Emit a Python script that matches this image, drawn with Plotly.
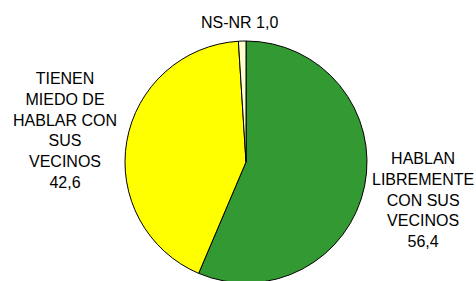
import plotly.graph_objects as go

labels = ["HABLAN LIBREMENTE CON SUS VECINOS", "TIENEN MIEDO DE HABLAR CON SUS VECINOS", "NS-NR"]
values = [56.4, 42.6, 1.0]
label_lines = [
    ["HABLAN", "LIBREMENTE", "CON SUS", "VECINOS"],
    ["TIENEN", "MIEDO DE", "HABLAR CON", "SUS", "VECINOS"],
    ["NS-NR"],
]
colors = ["#339933", "#FFFF00", "#FFFFCC"]

W, H = 476, 285
cx, cy, r = 246, 162, 121

fig = go.Figure(go.Pie(
    labels=labels, values=values, sort=False, direction="clockwise", rotation=0,
    marker=dict(colors=colors, line=dict(color="black", width=1)),
    textinfo="none", hoverinfo="label+value", showlegend=False,
    domain=dict(x=[(cx - r) / W, (cx + r) / W], y=[(H - (cy + r)) / H, (H - (cy - r)) / H]),
))

def fmt(v):
    return f"{v:.1f}".replace(".", ",")

label_pos = [(423, 200), (65, 130), (239, 22)]
for lines, v, (x, y) in zip(label_lines, values, label_pos):
    if len(lines) == 1:
        text = lines[0] + " " + fmt(v)
    else:
        text = "<br>".join(lines + [fmt(v)])
    fig.add_annotation(
        x=x / W, y=1 - y / H, xref="paper", yref="paper", text=text,
        showarrow=False, xanchor="center", yanchor="middle", align="center",
        font=dict(family="Liberation Sans, Arial, sans-serif", size=16, color="black"),
    )

fig.update_layout(
    width=W, height=H, margin=dict(l=0, r=0, t=0, b=0),
    paper_bgcolor="white", plot_bgcolor="white",
)
fig.write_html(
    "out.html",
    config={"displayModeBar": False},
    post_script="document.body.style.margin='0';document.body.style.overflow='hidden';document.documentElement.style.overflow='hidden';",
)
